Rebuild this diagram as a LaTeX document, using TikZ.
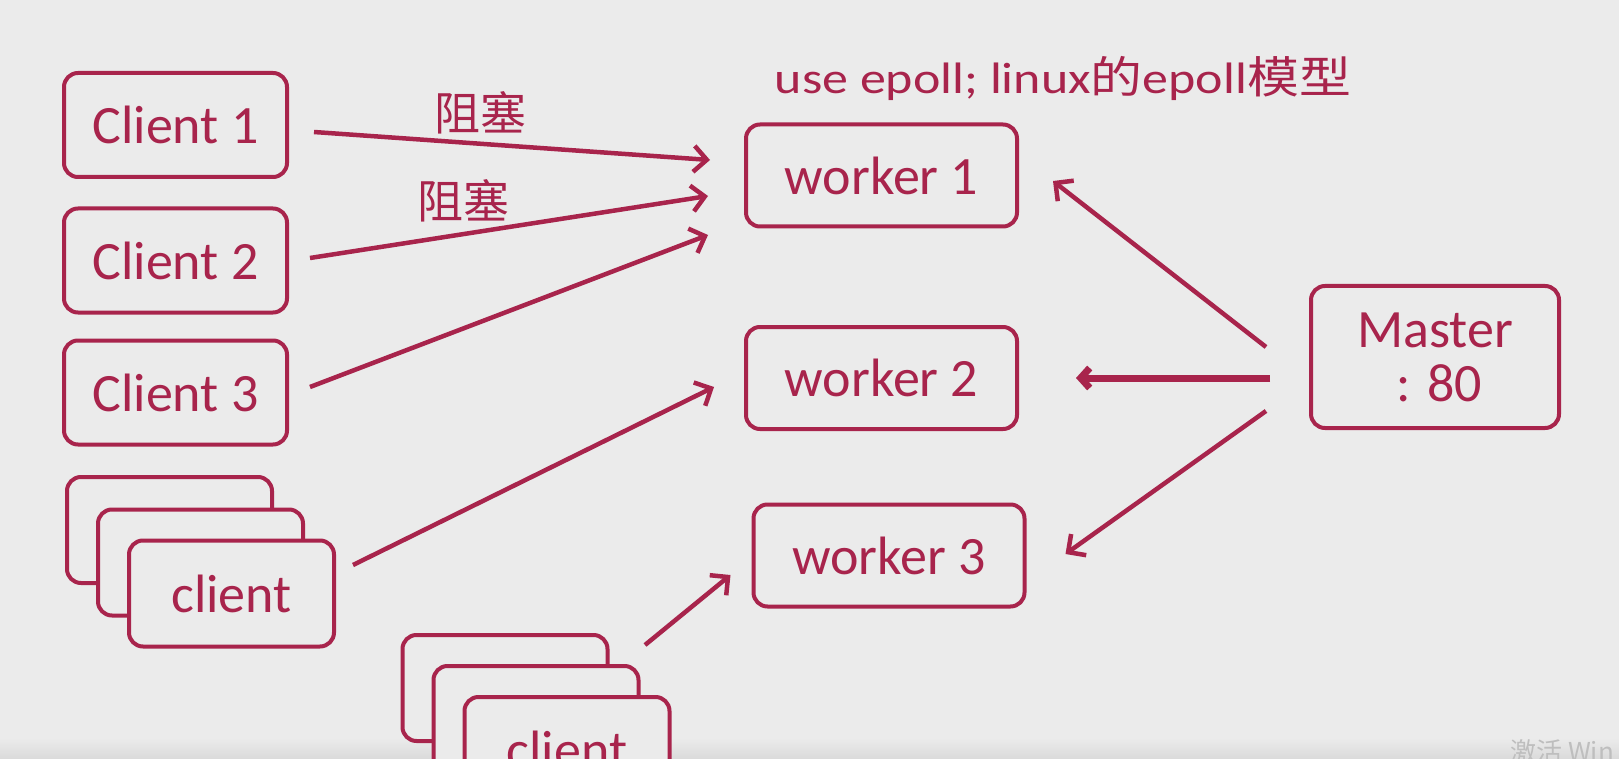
\documentclass[tikz,border=0pt]{standalone}
\usepackage{fontspec}
\setmainfont{Carlito}
\newfontfamily\cjk{Noto Sans CJK SC}
\usetikzlibrary{arrows.meta,calc}
\definecolor{bg}{RGB}{235,235,235}
\definecolor{crim}{RGB}{168,36,76}
\definecolor{wm}{RGB}{190,190,190}
\begin{document}
\begin{tikzpicture}[x=1pt,y=-1pt,
  box/.style={draw=crim, line width=4pt, rounded corners=14pt, fill=bg, text=crim,
    font=\fontsize{54}{60}\selectfont, inner sep=0pt, align=center},
  cbox/.style={box, minimum width=223pt, minimum height=104pt},
  sbox/.style={box, minimum width=205pt, minimum height=106pt},
  wbox/.style={box, minimum width=271pt, minimum height=102pt},
  conn/.style={draw=crim, line width=4.5pt, -{Straight Barb[length=13pt,width=26pt]}},
  lbl/.style={text=crim, font=\cjk\fontsize{46}{50}\selectfont, inner sep=0pt}]
\fill[bg] (0,0) rectangle (1619,759);
\useasboundingbox (0,0) rectangle (1619,759);
\shade[top color=bg, bottom color={rgb,255:red,218;green,218;blue,218}] (0,738) rectangle (1619,759);

% clients
\node[cbox] (c1) at (175.5,125) {Client 1};
\node[cbox] (c2) at (175.5,260.5) {Client 2};
\node[cbox] (c3) at (175.5,392.5) {Client 3};

% left stack
\node[sbox] (s1) at (169.5,530) {};
\node[sbox] (s2) at (200.5,562.5) {};
\node[sbox] (s3) at (231.5,593.5) {client};

% bottom stack
\node[sbox] (b1) at (505,688) {};
\node[sbox] (b2) at (536,719) {};
\node[sbox] (b3) at (567,750) {client};

% workers
\node[wbox] (w1) at (881.5,175.5) {worker 1};
\node[wbox] (w2) at (881.5,378) {worker 2};
\node[wbox] (w3) at (889,555.5) {worker 3};

% master
\node[box, minimum width=248pt, minimum height=142pt] (m) at (1435,357) {Master\\[-6pt]\,: 80};

% heading text
\node[text=crim, font=\fontsize{44}{50}\selectfont, inner sep=0pt] (t) at (1063,78)
  {\scalebox{1.18}[1]{use epoll; linux{\cjk 的}epoll{\cjk 模型}}};

% labels
\node[lbl] (l1) at (480,113) {阻塞};
\node[lbl] (l2) at (463,201) {阻塞};

% arrows
\draw[conn] ($(c1.east)+(25,7)$) -- ($(w1.west)+(-34,-15.5)$);
\draw[conn] ($(c2.east)+(21,-2.5)$) -- ($(w1.west)+(-36,20.5)$);
\draw[conn] ($(c3.east)+(21,-5.5)$) -- ($(w1.west)+(-36,59.5)$);
\draw[conn] ($(s3.east)+(17,-28.5)$) -- ($(w2.west)+(-30,9)$);
\draw[conn] ($(b2.north east)+(4.5,-19)$) -- ($(w3.west)+(-21,19.5)$);
\draw[conn] ($(m.west)+(-43,-10)$) -- ($(w1.east)+(34,5.5)$);
\draw[draw=crim, line width=7pt, -{Straight Barb[length=9pt,width=20pt]}] ($(m.west)+(-39,21)$) -- ($(w2.east)+(57,0)$);
\draw[conn] ($(m.west)+(-43,54)$) -- ($(w3.east)+(39,-1.5)$);

% watermark
\node[text=wm, font=\cjk\fontsize{26}{30}\selectfont, anchor=west, inner sep=0pt] (wmk) at (1510,752) {激活 Win};
\end{tikzpicture}
\end{document}
